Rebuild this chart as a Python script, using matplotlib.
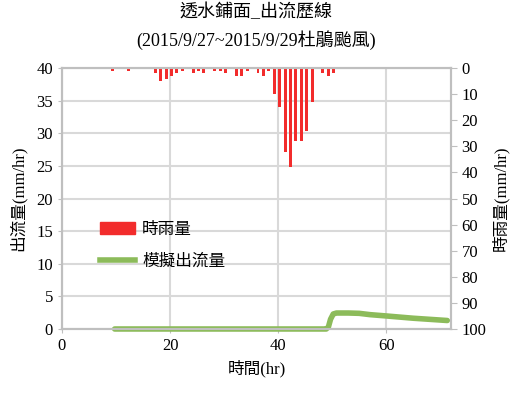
import numpy as np
from matplotlib import pyplot as plt
from matplotlib.patches import Patch
from matplotlib.lines import Line2D

plt.rcParams['font.family'] = ['Liberation Serif', 'Noto Sans CJK TC']

# rainfall (hourly, mm/hr)
rain_hr = [9, 12, 17, 18, 19, 20, 21, 22, 24, 25, 26, 28, 29, 30, 32, 33, 34,
           36, 37, 38, 39, 40, 41, 42, 43, 44, 45, 46, 48, 49, 50]
rain_mm = [1, 1, 2, 5, 4, 3, 2, 1, 2, 1, 2, 1, 1, 2, 3, 3, 1,
           2, 3, 1, 10, 15, 32, 38, 28, 28, 24, 13, 2, 3, 2]

# simulated outflow (mm/hr)
flow_hr = [9.75, 20, 30, 40, 48.9, 49.3, 49.7, 50.2, 50.8, 53, 55, 57, 60, 65, 71.3]
flow_q = [0, 0, 0, 0, 0, 0.3, 1.5, 2.3, 2.45, 2.45, 2.4, 2.2, 2.0, 1.65, 1.3]

grey = '#bfbfbf'
fig = plt.figure(figsize=(5.12, 3.94), dpi=100)
ax = fig.add_axes([0.121, 0.165, 0.760, 0.662])

ax.plot(flow_hr, flow_q, color='#8cbb5a', lw=4, solid_capstyle='round', clip_on=False, zorder=3)
ax.set_xlim(0, 72)
ax.set_ylim(0, 40)
ax.set_xticks([0, 20, 40, 60])
ax.set_yticks(np.arange(0, 41, 5))
ax.grid(True, color='#d9d9d9', lw=1.5)
ax.tick_params(labelsize=12, length=3, color=grey)
ax.set_xlabel('時間(hr)', fontsize=12)
ax.set_ylabel('出流量(mm/hr)', fontsize=12, labelpad=7)

ax2 = ax.twinx()
ax2.bar(rain_hr, rain_mm, width=0.55, align='edge', color='#f22c2c', zorder=2)
ax2.set_ylim(100, 0)
ax2.set_yticks(np.arange(0, 101, 10))
ax2.tick_params(labelsize=12, length=4, color=grey)
ax2.set_ylabel('時雨量(mm/hr)', fontsize=12, labelpad=4)

for a in (ax, ax2):
    for s in a.spines.values():
        s.set_color(grey)
        s.set_linewidth(1.5)

fig.suptitle('透水鋪面_出流歷線\n(2015/9/27~2015/9/29杜鵑颱風)', fontsize=13, y=0.99,
             linespacing=1.55, x=0.5)

handles = [Patch(color='#f22c2c'), Line2D([], [], color='#8cbb5a', lw=4)]
ax2.legend(handles, ['時雨量', '模擬出流量'], loc='center left', bbox_to_anchor=(0.06, 0.32),
           frameon=False, fontsize=12, handlelength=2.1, labelspacing=0.95, handletextpad=0.4)

fig.savefig('out.png', dpi=100)
